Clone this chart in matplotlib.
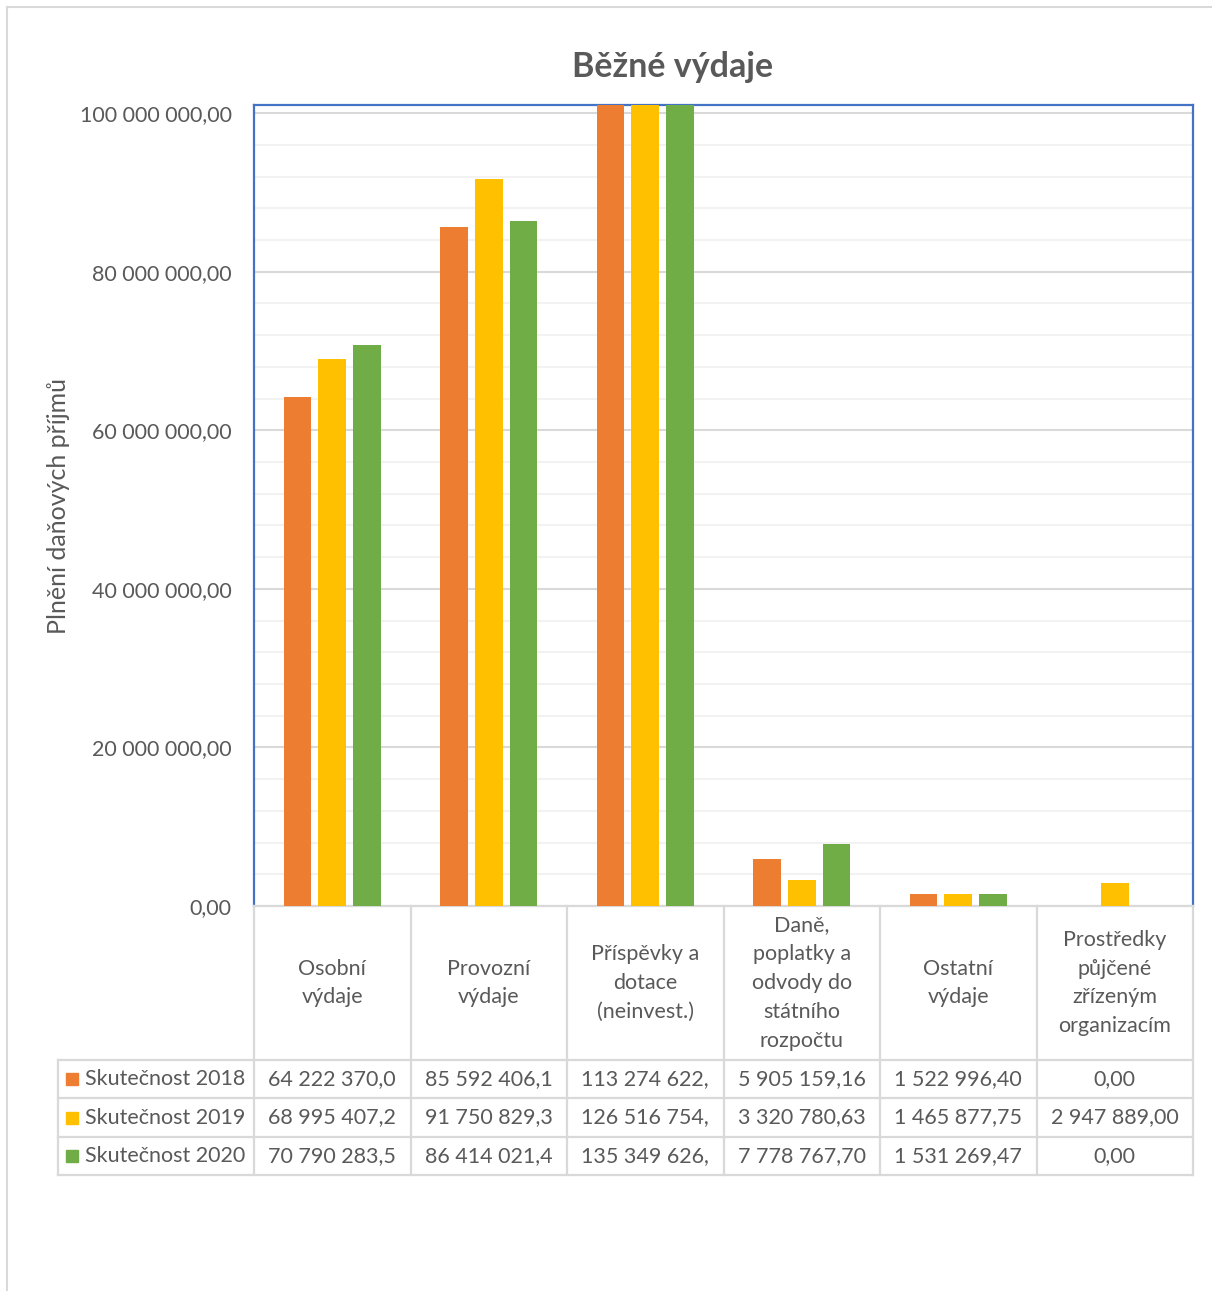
import numpy as np
import matplotlib
matplotlib.use("Agg")
import matplotlib.pyplot as plt
from matplotlib.ticker import MultipleLocator, FuncFormatter

plt.rcParams['font.family'] = ['Lato', 'DejaVu Sans']

categories = ["Osobní\nvýdaje", "Provozní\nvýdaje", "Příspěvky a\ndotace\n(neinvest.)",
              "Daně,\npoplatky a\nodvody do\nstátního\nrozpočtu", "Ostatní\nvýdaje",
              "Prostředky\npůjčené\nzřízeným\norganizacím"]
series = ["Skutečnost 2018", "Skutečnost 2019", "Skutečnost 2020"]
v2018 = [64222370.0, 85592406.1, 113274622.0, 5905159.16, 1522996.40, 0.0]
v2019 = [68995407.2, 91750829.3, 126516754.0, 3320780.63, 1465877.75, 2947889.00]
v2020 = [70790283.5, 86414021.4, 135349626.0, 7778767.70, 1531269.47, 0.0]
# table cells as Excel shows them (cut to the column width)
t2018 = ["64 222 370,0", "85 592 406,1", "113 274 622,", "5 905 159,16", "1 522 996,40", "0,00"]
t2019 = ["68 995 407,2", "91 750 829,3", "126 516 754,", "3 320 780,63", "1 465 877,75", "2 947 889,00"]
t2020 = ["70 790 283,5", "86 414 021,4", "135 349 626,", "7 778 767,70", "1 531 269,47", "0,00"]
colors = ["#ED7D31", "#FFC000", "#70AD47"]

W, H = 1212, 1291
TXT = "#595959"
GRID = "#d9d9d9"
FS = 15.5

fig = plt.figure(figsize=(W / 100, H / 100), dpi=100)

# plot area in pixels
L, R, T, B = 254, 1193, 105, 906
ax = fig.add_axes([L / W, (H - B) / H, (R - L) / W, (B - T) / H])

x = np.arange(len(categories))
for i, vals in enumerate([v2018, v2019, v2020]):
    ax.bar(x + (i - 1) * 0.222, vals, width=0.176, color=colors[i], zorder=3)

ax.set_xlim(-0.5, len(categories) - 0.5)
ax.set_ylim(0, 101.03e6)
ax.yaxis.set_major_locator(MultipleLocator(20e6))
ax.yaxis.set_minor_locator(MultipleLocator(4e6))
ax.yaxis.set_major_formatter(FuncFormatter(
    lambda v, p: "{:,.2f}".format(v).replace(",", " ").replace(".", ",")))
ax.grid(axis="y", which="major", color=GRID, lw=1.5, zorder=0)
ax.grid(axis="y", which="minor", color="#f2f2f2", lw=1.5, zorder=0)
ax.tick_params(axis="y", which="both", length=0, pad=16, labelsize=FS, labelcolor=TXT)
ax.set_xticks([])
for s in ["left", "top", "right"]:
    ax.spines[s].set_color("#4472C4")
    ax.spines[s].set_linewidth(1.6)
ax.spines["bottom"].set_color(GRID)
ax.spines["bottom"].set_linewidth(1.6)
ax.set_ylabel("Plnění daňových příjmů", fontsize=18, color=TXT, va="center")
ax.yaxis.set_label_coords(-(L - 58) / (R - L), 0.5)

fig.text(673 / W, 1 - 67 / H, "Běžné výdaje", fontsize=24.5, fontweight="bold",
         color=TXT, ha="center", va="center")

# data table drawn in pixel space
ov = fig.add_axes([0, 0, 1, 1], zorder=5)
ov.set_xlim(0, W)
ov.set_ylim(H, 0)
ov.axis("off")
ov.patch.set_alpha(0)

# outer chart border (top and left)
ov.plot([7, W], [7, 7], color=GRID, lw=1.5)
ov.plot([7, 7], [7, H], color=GRID, lw=1.5)

n = len(categories)
cols = np.linspace(L, R, n + 1)
rows = [B, 1060, 1098, 1137, 1175]
lc = dict(color=GRID, lw=1.6)
for y in rows[1:]:
    ov.plot([58, R], [y, y], **lc)
for cx in cols:
    ov.plot([cx, cx], [B, rows[-1]], **lc)
ov.plot([58, 58], [rows[1], rows[-1]], **lc)

for j, c in enumerate(categories):
    ov.text((cols[j] + cols[j + 1]) / 2, 983, c, ha="center", va="center",
            fontsize=FS, color=TXT, linespacing=1.55)

for i, (name, cells) in enumerate(zip(series, [t2018, t2019, t2020])):
    yc = (rows[i + 1] + rows[i + 2]) / 2
    ov.add_patch(plt.Rectangle((66, yc - 6), 12, 12, color=colors[i]))
    ov.text(85, yc, name, ha="left", va="center", fontsize=FS, color=TXT)
    for j, t in enumerate(cells):
        ov.text((cols[j] + cols[j + 1]) / 2, yc, t, ha="center", va="center",
                fontsize=FS, color=TXT)

fig.savefig("out.png", dpi=100)
